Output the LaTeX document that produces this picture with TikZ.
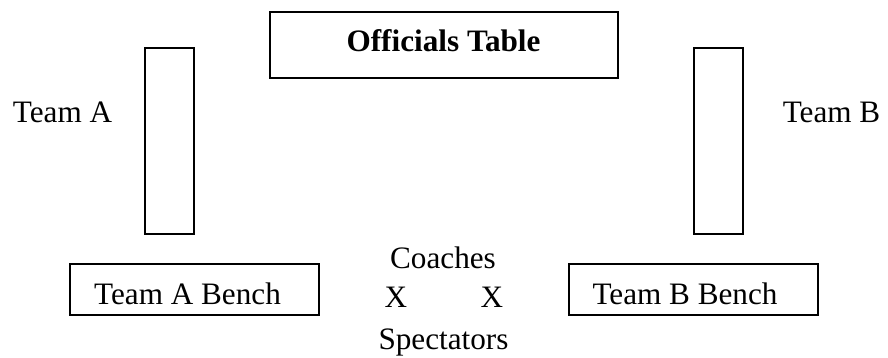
\documentclass[tikz,border=0pt]{standalone}
\usepackage{fontspec}
\setmainfont{Liberation Serif}
\usepackage{tikz}
\usetikzlibrary{positioning}

\begin{document}
\begin{tikzpicture}[x=0.5pt,y=-0.5pt,
        box/.style={draw,line width=1pt,inner sep=0pt},
        lbl/.style={anchor=base,inner sep=0pt,font=\fontsize{15.6}{18}\selectfont}]
        \useasboundingbox (0,0) rectangle (888,358);

        \node[box,minimum width=174pt,minimum height=33pt](table) at (444,45.5) {};
        \node[box,minimum width=24.5pt,minimum height=92.5pt](sideA) at (169,141) {};
        \node[box,minimum width=24.5pt,minimum height=92.5pt](sideB) at (718,141) {};
        \node[box,minimum width=124.5pt,minimum height=25.5pt](benchA) at (194,289) {};
        \node[box,minimum width=124.5pt,minimum height=25.5pt](benchB) at (693,289) {};

        \node[lbl](tabletxt) at (443.5,52) {\bfseries Officials Table};
        \node[lbl](teamA) at (62.5,122) {Team A};
        \node[lbl](teamB) at (831.5,122) {Team B};
        \node[lbl](benchAtxt) at (187.5,304) {Team A Bench};
        \node[lbl](benchBtxt) at (685,304) {Team B Bench};
        \node[lbl](coaches) at (443,268) {Coaches};
        \node[lbl](coachA) at (396,307) {X};
        \node[lbl](coachB) at (492,307) {X};
        \node[lbl](spect) at (443.5,349) {Spectators};
      \end{tikzpicture}
\end{document}
